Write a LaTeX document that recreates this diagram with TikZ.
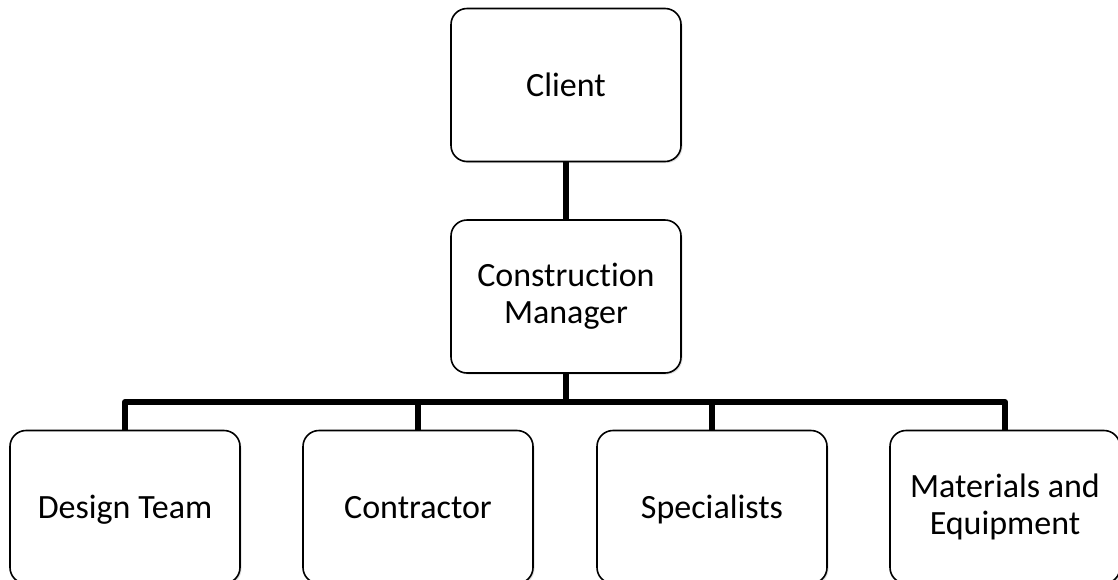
\documentclass[tikz,border=0pt]{standalone}
\usepackage{fontspec}
\setmainfont{Carlito}[Ligatures=NoCommon]
\usepackage{tikz}
\usetikzlibrary{positioning, calc, shadows}
\tikzset{box/.style = {draw, rounded corners=16pt, line width=1.6pt, fill=white,
                       minimum width=230pt, minimum height=153pt, align=center,
                       font=\fontsize{34}{37}\selectfont,
                       drop shadow={shadow xshift=1.5pt, shadow yshift=-1.5pt, opacity=0.25}},
         oneline/.style = {text height=22pt, text depth=0pt},
         link/.style = {line width=6pt, line join=round}}

\begin{document}
\begin{tikzpicture}[x=1pt,y=-1pt]
    \useasboundingbox (0,0) rectangle (1118,579);

    \node [box,oneline] (client) at (566, 85)    {Client};
    \node [box]         (cm)     at (566,296.5)  {Construction\\Manager};

    \node [box,oneline] (design)      at ( 125,507) {Design Team};
    \node [box,oneline] (contractor)  at ( 418,507) {Contractor};
    \node [box,oneline] (specialists) at ( 712,507) {Specialists};
    \node [box]         (materials)   at (1005,507) {Materials and\\Equipment};

    \coordinate (bus) at (566,402);

    \draw [link] (client) -- (cm);
    \draw [link] (cm) -- (bus);
    \draw [link] (design) -- (design |- bus) -- (materials |- bus) -- (materials);
    \draw [link] (contractor) -- (contractor |- bus);
    \draw [link] (specialists) -- (specialists |- bus);
\end{tikzpicture}
\end{document}
